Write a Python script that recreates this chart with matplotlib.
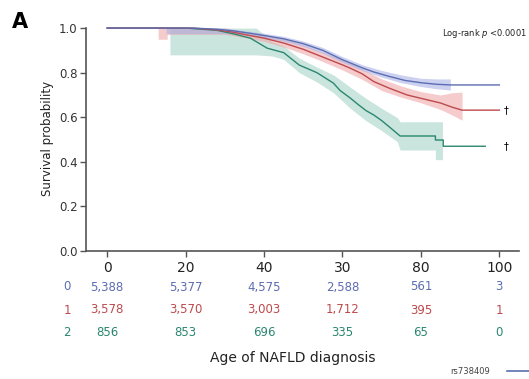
import numpy as np
import matplotlib
matplotlib.use("Agg")
import matplotlib.pyplot as plt

# Kaplan-Meier estimates by rs738409 genotype (0, 1, 2)
t0 = [0, 22, 28, 32, 36, 40, 45, 50, 55, 60, 65, 68, 72, 76, 80, 84, 87.5, 100]
s0 = [1, 1, 0.995, 0.988, 0.978, 0.967, 0.952, 0.93, 0.9, 0.858, 0.822, 0.803, 0.783, 0.765, 0.755, 0.748, 0.745, 0.745]
t1 = [0, 22, 28, 32, 36, 40, 45, 50, 55, 60, 62, 65, 68, 72, 76.5, 80, 85, 88, 90.5, 100]
s1 = [1, 1, 0.992, 0.982, 0.968, 0.955, 0.933, 0.905, 0.87, 0.835, 0.82, 0.795, 0.76, 0.73, 0.70, 0.685, 0.664, 0.645, 0.632, 0.632]
t2 = [0, 20, 28, 32, 36.5, 40.8, 45, 49, 53.5, 57.7, 59.4, 62, 63.8, 66, 68, 70, 72, 74.7, 83.7, 83.7, 85.7, 85.7, 96.4]
s2 = [1, 1, 0.99, 0.975, 0.955, 0.91, 0.89, 0.834, 0.80, 0.753, 0.72, 0.686, 0.66, 0.63, 0.61, 0.585, 0.556, 0.516, 0.516, 0.498, 0.498, 0.47, 0.47]

# 95% confidence bands
ct0 = [15, 30, 36, 40, 45, 50, 55, 60, 65, 70, 75, 80, 84, 87.5]
lo0 = [0.975, 0.975, 0.97, 0.957, 0.941, 0.918, 0.887, 0.846, 0.81, 0.78, 0.755, 0.738, 0.728, 0.722]
hi0 = [1, 1, 0.986, 0.977, 0.963, 0.942, 0.913, 0.872, 0.836, 0.81, 0.79, 0.775, 0.772, 0.772]
ct1 = [13, 15.3, 15.3, 30, 36, 40, 45, 50, 55, 60, 65, 70, 75, 80, 85, 88, 90.5]
lo1 = [0.95, 0.95, 0.972, 0.972, 0.955, 0.94, 0.915, 0.885, 0.85, 0.812, 0.77, 0.72, 0.69, 0.665, 0.635, 0.61, 0.587]
hi1 = [1, 1, 1, 1, 0.982, 0.97, 0.951, 0.925, 0.892, 0.858, 0.818, 0.772, 0.74, 0.715, 0.70, 0.71, 0.713]
ct2 = [16, 38, 42, 45, 49, 53.5, 57.7, 62, 66, 70, 74, 74.7, 83.7, 83.7, 85.5]
lo2 = [0.88, 0.88, 0.875, 0.86, 0.80, 0.758, 0.71, 0.64, 0.585, 0.54, 0.49, 0.453, 0.453, 0.41, 0.41]
hi2 = [1, 1, 0.94, 0.92, 0.865, 0.825, 0.79, 0.735, 0.685, 0.64, 0.598, 0.58, 0.58, 0.58, 0.58]

# number at risk
risk_times = [0, 20, 40, 60, 80, 100]
tick_labels = ["0", "20", "40", "30", "80", "100"]
risk0 = ["5,388", "5,377", "4,575", "2,588", "561", "3"]
risk1 = ["3,578", "3,570", "3,003", "1,712", "395", "1"]
risk2 = ["856", "853", "696", "335", "65", "0"]

line_cols = ["#5c6db3", "#bd4a4d", "#2b8670"]
band_cols = ["#aab3e6", "#f0a9aa", "#a6d4c8"]

fig = plt.figure(figsize=(5.29, 3.79), dpi=100)
ax = fig.add_axes([0.1626, 0.3377, 0.8184, 0.594])

ax.fill_between(ct2, lo2, hi2, color=band_cols[2], alpha=0.6, lw=0)
ax.fill_between(ct1, lo1, hi1, color=band_cols[1], alpha=0.6, lw=0)
ax.fill_between(ct0, lo0, hi0, color=band_cols[0], alpha=0.6, lw=0)
ax.plot(t2, s2, color=line_cols[2], lw=1.0)
ax.plot(t1, s1, color=line_cols[1], lw=1.0)
ax.plot(t0, s0, color=line_cols[0], lw=1.0)

# censored curve markers
ax.text(101, s1[-1], "\u2020", fontsize=7, ha="left", va="center")
ax.text(101, s2[-1], "\u2020", fontsize=7, ha="left", va="center")

ax.set_xlim(-5.4, 105)
ax.set_ylim(0, 1.01)
ax.set_xticks(risk_times)
ax.set_xticklabels(tick_labels, fontsize=10, color="#222222")
ax.set_yticks([0, 0.2, 0.4, 0.6, 0.8, 1.0])
ax.set_yticklabels(["0.0", "0.2", "0.4", "0.6", "0.8", "1.0"], fontsize=8.5, color="#333333")
ax.tick_params(axis="both", direction="out", length=4, width=1, color="#555555", pad=2)
ax.tick_params(axis="x", pad=3)
for side in ["top", "right"]:
    ax.spines[side].set_visible(False)
for side in ["left", "bottom"]:
    ax.spines[side].set_color("#555555")
    ax.spines[side].set_linewidth(1.2)
ax.spines["left"].set_bounds(0, 1.0)
ax.set_ylabel("Survival probability", fontsize=8.5, color="#222222", labelpad=4)

W, H = 529.0, 379.0
fig.text(527 / W, 1 - 33 / H, "Log-rank $\\it{p}$ <0.0001",
         fontsize=6, ha="right", va="center", color="#222222")
fig.text(12 / W, 1 - 22 / H, "A", fontsize=15, fontweight="bold", ha="left", va="center")

# risk table below the x axis
rows = [(risk0, 287), (risk1, 310), (risk2, 332)]
for g, (vals, ypx) in enumerate(rows):
    fig.text(67 / W, 1 - ypx / H, str(g), fontsize=8.5, color=line_cols[g], ha="center", va="center")
    for tx, v in zip(risk_times, vals):
        xf = ax.transData.transform((tx, 0))[0] / fig.bbox.width
        fig.text(xf, 1 - ypx / H, v, fontsize=8.5, color=line_cols[g], ha="center", va="center")

fig.text(293 / W, 1 - 358 / H, "Age of NAFLD diagnosis", fontsize=10, ha="center", va="center", color="#222222")
fig.text(470 / W, 1 - 372 / H, "rs738409", fontsize=6, ha="center", va="center", color="#444444")
fig.add_artist(plt.Line2D([507 / W, 530 / W], [1 - 371 / H, 1 - 371 / H], color="#5c6db3", lw=1.2))

fig.savefig("out.png", dpi=100)
